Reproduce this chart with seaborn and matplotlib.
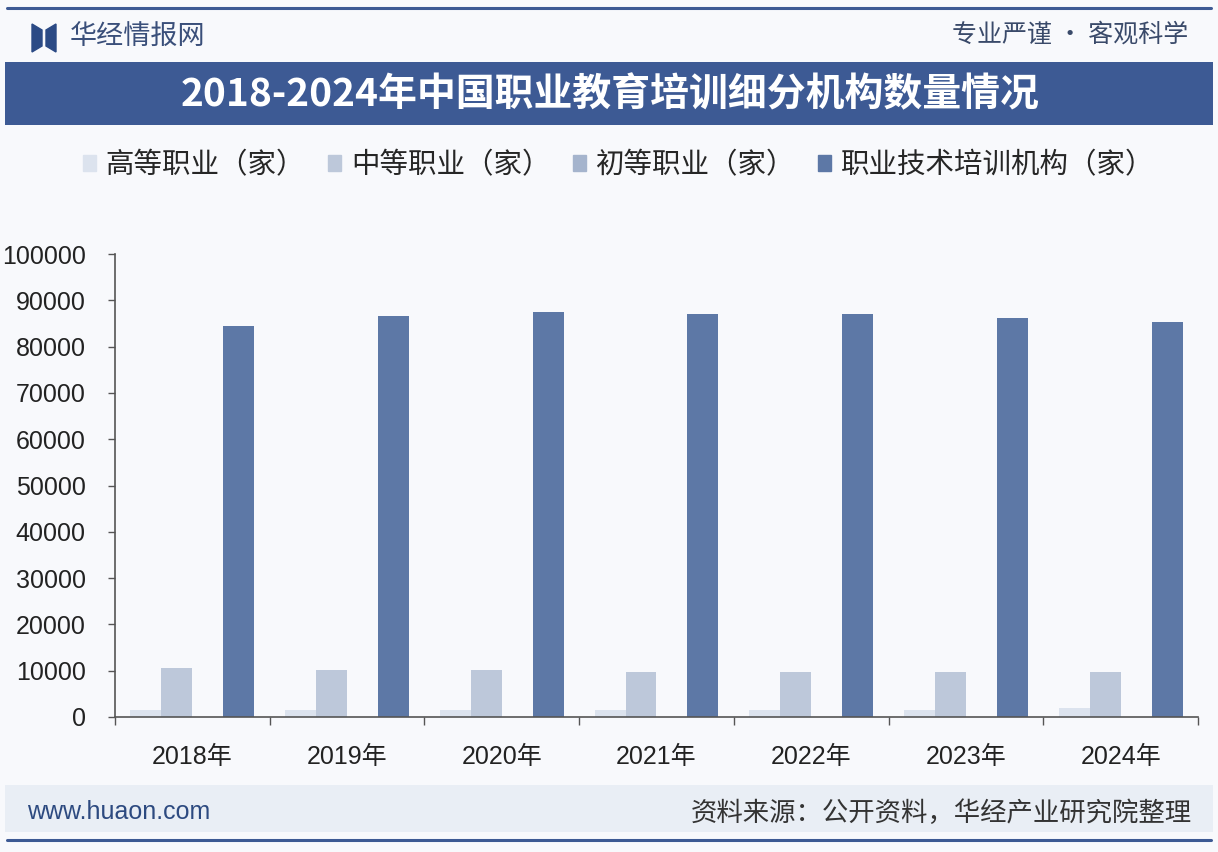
import matplotlib
matplotlib.use("Agg")
import matplotlib.pyplot as plt
import matplotlib.patches as mpatches
from matplotlib.lines import Line2D
import seaborn as sns
import pandas as pd

# ── Data ─────────────────────────────────────────────────────────────────────
years = ["2018年", "2019年", "2020年", "2021年", "2022年", "2023年", "2024年"]
series_names = ["高等职业（家）", "中等职业（家）", "初等职业（家）", "职业技术培训机构（家）"]
higher = [1420, 1420, 1470, 1490, 1490, 1550, 1900]
middle = [10500, 10070, 10070, 9700, 9700, 9700, 9700]
primary = [15, 14, 12, 11, 10, 9, 9]
training = [84360, 86600, 87470, 87040, 87040, 86090, 85310]
yticks = [0, 10000, 20000, 30000, 40000, 50000, 60000, 70000, 80000, 90000, 100000]

COLORS = ["#dce3ee", "#bdc8da", "#a5b4cd", "#5d78a6"]
NAVY = "#3d5a94"
CJK = ["Noto Sans CJK SC", "DejaVu Sans"]
NUM = ["Liberation Sans", "Noto Sans CJK SC"]

df = pd.DataFrame({
    "year": years * 4,
    "series": sum([[s] * len(years) for s in series_names], []),
    "value": higher + middle + primary + training,
})

sns.set_theme(style="white")
plt.rcParams["font.family"] = CJK

fig = plt.figure(figsize=(12.18, 8.52), dpi=100)
fig.patch.set_facecolor("#f8f9fc")

# ── Header / title band / footer decorations ────────────────────────────────
fig.add_artist(Line2D([0.006, 0.994], [1 - 8 / 852] * 2, color=NAVY, lw=2.2,
                      solid_capstyle="round"))
fig.add_artist(Line2D([0.006, 0.994], [1 - 840 / 852] * 2, color=NAVY, lw=2.2,
                      solid_capstyle="round"))
fig.add_artist(mpatches.Rectangle((0.004, 1 - 125 / 852), 0.992, 63 / 852,
                                  transform=fig.transFigure, color=NAVY, lw=0))
fig.add_artist(mpatches.Rectangle((0.004, 1 - 832 / 852), 0.992, 47 / 852,
                                  transform=fig.transFigure, color="#e9eef5", lw=0))
# logo
fig.add_artist(mpatches.Polygon([(32 / 1218, 1 - 24 / 852), (42 / 1218, 1 - 30 / 852),
                                 (42 / 1218, 1 - 46 / 852), (32 / 1218, 1 - 52 / 852)],
                                closed=True, transform=fig.transFigure, color="#2b4a85"))
fig.add_artist(mpatches.Polygon([(56 / 1218, 1 - 24 / 852), (46 / 1218, 1 - 30 / 852),
                                 (46 / 1218, 1 - 46 / 852), (56 / 1218, 1 - 52 / 852)],
                                closed=True, transform=fig.transFigure, color="#2b4a85"))
fig.text(70 / 1218, 1 - 37 / 852, "华经情报网", fontsize=19.5, color="#3a4f7a",
         va="center", ha="left")
fig.text(1188 / 1218, 1 - 35 / 852, "专业严谨 • 客观科学", fontsize=18, color="#3a4a6a",
         va="center", ha="right")
fig.text(0.5 * (180 + 1040) / 1218, 1 - 95 / 852,
         "2018-2024年中国职业教育培训细分机构数量情况",
         fontsize=28, fontweight="bold", color="white", va="center", ha="center")
fig.text(27 / 1218, 1 - 812 / 852, "www.huaon.com", fontsize=18, color="#2d4a80",
         va="center", ha="left", family=NUM)
fig.text(1192 / 1218, 1 - 813 / 852, "资料来源：公开资料，华经产业研究院整理",
         fontsize=19, color="#333333", va="center", ha="right")

# ── Bars ──────────────────────────────────────────────────────────────────────
ax = fig.add_axes([115 / 1218, 1 - 717 / 852, 1083 / 1218, 463 / 852])
ax.set_facecolor("none")
sns.barplot(data=df, x="year", y="value", hue="series", palette=COLORS,
            width=0.8, saturation=1, linewidth=0, ax=ax, legend=False)

ax.set_ylim(0, 100000)
ax.set_yticks(yticks)
ax.set_xlim(-0.5, len(years) - 0.5)
ax.set_xlabel("")
ax.set_ylabel("")
for lbl in ax.get_yticklabels() + ax.get_xticklabels():
    lbl.set_family(NUM)
    lbl.set_fontsize(18)
    lbl.set_color("#222222")
ax.tick_params(axis="y", left=True, length=5, width=1, color="#555555", pad=16)
ax.tick_params(axis="x", bottom=False, pad=14)
ax.set_xticks([i - 0.5 for i in range(len(years) + 1)], minor=True)
ax.tick_params(axis="x", which="minor", bottom=True, length=6, width=1, color="#555555")
sns.despine(ax=ax)
for side in ["left", "bottom"]:
    ax.spines[side].set_color("#555555")
    ax.spines[side].set_linewidth(1.2)

# ── Legend ───────────────────────────────────────────────────────────────────
handles = [mpatches.Patch(color=c) for c in COLORS]
fig.legend(handles, series_names, loc="center", bbox_to_anchor=(0.508, 1 - 165 / 852),
           ncol=4, frameon=False, fontsize=20.5, handlelength=0.45, handleheight=0.45,
           handletextpad=0.35, columnspacing=0.8)

plt.savefig("out.png", dpi=100, facecolor=fig.get_facecolor())
